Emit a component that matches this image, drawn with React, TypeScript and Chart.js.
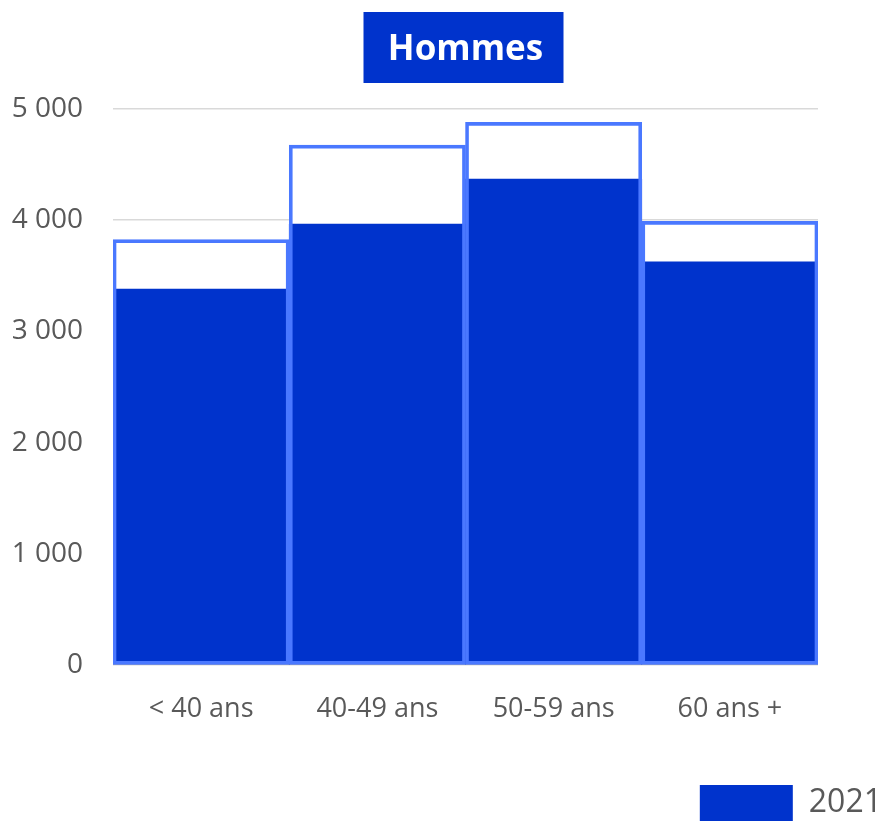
import React, { useEffect, useRef } from 'react';
import { Chart, registerables } from 'chart.js';

Chart.register(...registerables);

const categories = ['< 40 ans', '40-49 ans', '50-59 ans', '60 ans +'];
const values2021 = [3380, 3965, 4370, 3625];
const outlineValues = [3825, 4675, 4880, 3990];
const legendLabel = '2021';
const titleText = 'Hommes';
const yMin = 0;
const yMax = 5000;
const yStep = 1000;

const DARK = '#0033CC';
const LIGHT = '#4A78FF';
const TEXT = '#595959';
const FONT = "'Open Sans', sans-serif";

const fmt = (v: number) => String(v).replace(/\B(?=(\d{3})+(?!\d))/g, ' ');

const titleBoxPlugin = {
  id: 'titleBox',
  beforeDraw(chart: any) {
    const tb = chart.titleBlock;
    if (!tb) return;
    const ctx = chart.ctx;
    const cx = (tb.left + tb.right) / 2;
    ctx.save();
    ctx.fillStyle = DARK;
    ctx.fillRect(cx - 102, tb.top + 12, 200, 71);
    ctx.restore();
  },
};

export default function App() {
  const ref = useRef<HTMLCanvasElement>(null);
  useEffect(() => {
    if (!ref.current) return;
    const chart = new Chart(ref.current, {
      type: 'bar',
      data: {
        labels: categories,
        datasets: [
          {
            label: 'contour',
            data: outlineValues,
            backgroundColor: 'rgba(0,0,0,0)',
            borderColor: LIGHT,
            borderWidth: 3,
            borderSkipped: false,
            grouped: false,
            barPercentage: 1,
            categoryPercentage: 1,
            order: 0,
          } as any,
          {
            label: legendLabel,
            data: values2021,
            backgroundColor: DARK,
            borderWidth: 0,
            grouped: false,
            barPercentage: 1,
            categoryPercentage: 1,
            order: 1,
          } as any,
          {
            label: 'fond',
            data: outlineValues,
            backgroundColor: '#ffffff',
            borderWidth: 0,
            grouped: false,
            barPercentage: 1,
            categoryPercentage: 1,
            order: 2,
          } as any,
        ],
      },
      options: {
        responsive: false,
        animation: false,
        layout: { padding: { top: 0, left: 0, right: 0, bottom: -9 } },
        plugins: {
          tooltip: { enabled: false },
          title: {
            display: true,
            text: titleText,
            fullSize: false,
            color: '#ffffff',
            font: { family: FONT, size: 35, weight: 'bold', lineHeight: 71 / 35 },
            padding: { top: 15, bottom: 23 },
          },
          legend: {
            display: true,
            position: 'bottom',
            align: 'end',
            labels: {
              filter: (item: any) => item.text === legendLabel,
              boxWidth: 93,
              boxHeight: 36,
              padding: 1,
              color: TEXT,
              font: { family: FONT, size: 32 },
            },
          },
        },
        scales: {
          x: {
            grid: { display: false },
            border: { display: false },
            ticks: {
              color: TEXT,
              font: { family: FONT, size: 27 },
              padding: 20,
              maxRotation: 0,
            },
            afterFit: (s: any) => {
              s.height = 119;
            },
          },
          y: {
            min: yMin,
            max: yMax,
            grid: { color: '#d9d9d9', lineWidth: 1.5, drawTicks: false },
            border: { display: false },
            ticks: {
              stepSize: yStep,
              color: TEXT,
              font: { family: FONT, size: 28 },
              padding: 30,
              callback: (v: any) => fmt(Number(v)),
            },
            afterFit: (s: any) => {
              s.width = 113;
            },
          },
          yRight: {
            position: 'right',
            display: true,
            grid: { display: false, drawTicks: false },
            border: { display: false },
            ticks: { display: false },
            afterFit: (s: any) => {
              s.width = 65;
            },
          },
        },
      } as any,
      plugins: [titleBoxPlugin],
    });
    return () => chart.destroy();
  }, []);
  return (
    <div style={{ position: 'absolute', left: 0, top: 0, width: 883, height: 822 }}>
      <canvas ref={ref} width={883} height={822} style={{ display: 'block' }} />
    </div>
  );
}
